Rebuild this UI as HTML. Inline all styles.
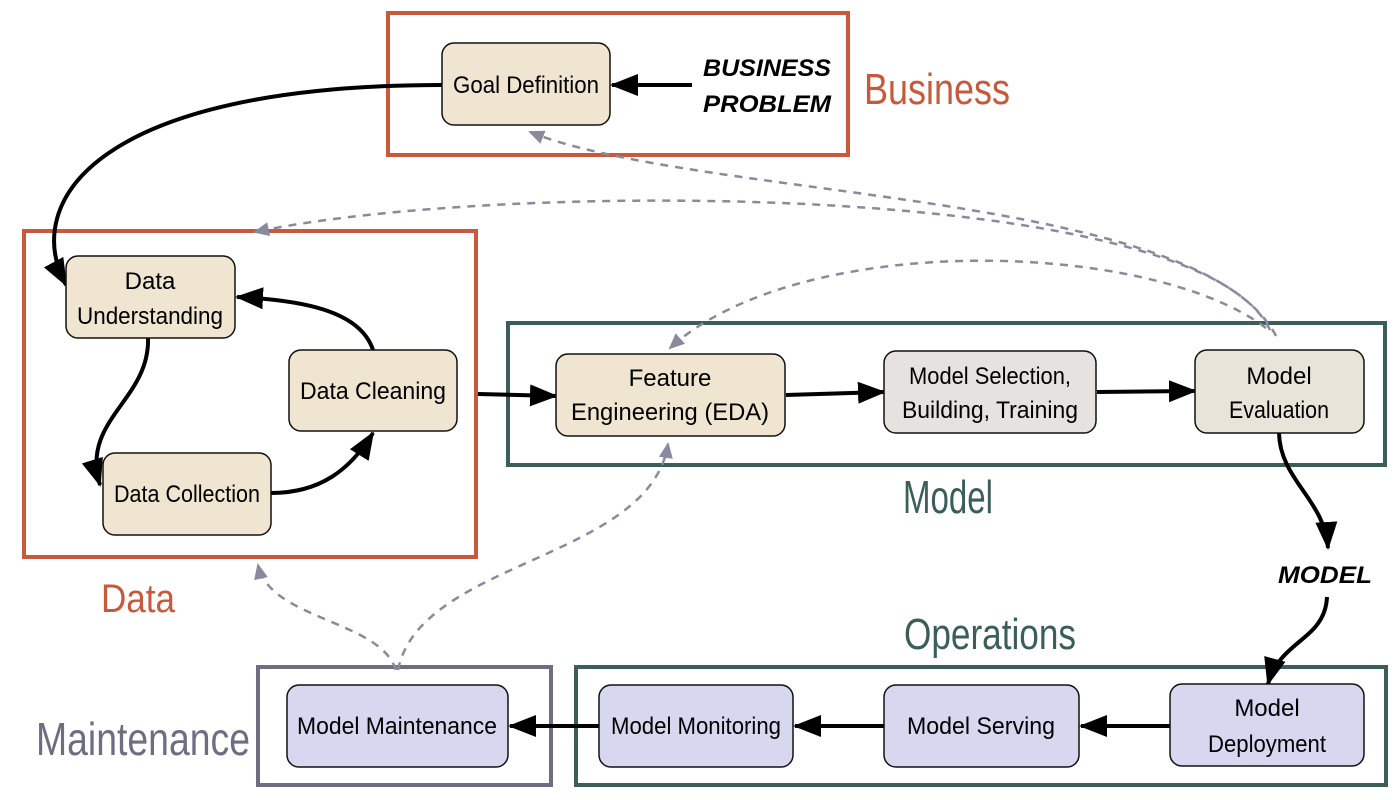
<!DOCTYPE html>
<html><head><meta charset="utf-8"><style>
html,body{margin:0;padding:0;background:#fff;}
svg{display:block;}
text{font-family:"Liberation Sans Narrow","Liberation Sans",sans-serif;}
</style></head><body>
<svg width="1400" height="800" viewBox="0 0 1400 800" xmlns="http://www.w3.org/2000/svg">
<defs>
<marker id="ab" markerWidth="28" markerHeight="28" refX="26" refY="14" orient="auto" markerUnits="userSpaceOnUse" viewBox="0 0 28 28"><path d="M0,3 L28,14 L0,25 z" fill="#000"/></marker>
<marker id="ag" markerWidth="16" markerHeight="16" refX="14" refY="8" orient="auto" markerUnits="userSpaceOnUse" viewBox="0 0 16 16"><path d="M0,1 L16,8 L0,15 z" fill="#8a8a9e"/></marker>
</defs>
<rect x="388" y="13" width="460" height="142" fill="none" stroke="#c8593a" stroke-width="4"/>
<rect x="24" y="231" width="452" height="326" fill="none" stroke="#c8593a" stroke-width="4"/>
<rect x="508" y="323" width="877" height="142" fill="none" stroke="#3b5e58" stroke-width="4"/>
<rect x="576" y="667" width="810" height="118" fill="none" stroke="#3b5e58" stroke-width="4"/>
<rect x="258" y="667" width="293" height="118" fill="none" stroke="#6e6e82" stroke-width="4"/>

<g fill="none" stroke="#8a8a9e" stroke-width="2.5" stroke-dasharray="8,7">
<path d="M1276,336 C1200,190 700,200 530,132" marker-end="url(#ag)"/>
<path d="M1270,330 C1200,180 500,180 255,232" marker-end="url(#ag)"/>
<path d="M1266,328 C1150,240 800,230 670,348" marker-end="url(#ag)"/>
<path d="M398,670 C420,560 650,560 668,444" marker-end="url(#ag)"/>
<path d="M396,670 C380,620 270,620 258,565" marker-end="url(#ag)"/>
</g>

<g fill="none" stroke="#000" stroke-width="4">
<path d="M442,85 C100,85 20,200 66,285" marker-end="url(#ab)"/>
<path d="M692,85 L612,85" marker-end="url(#ab)"/>
<path d="M148,338 C150,400 80,420 100,485" marker-end="url(#ab)"/>
<path d="M271,493 C320,493 350,470 373,433" marker-end="url(#ab)"/>
<path d="M373,350 C360,310 300,300 237,297" marker-end="url(#ab)"/>
<path d="M478,394 L556,396" marker-end="url(#ab)"/>
<path d="M786,395 L884,392" marker-end="url(#ab)"/>
<path d="M1097,392 L1195,391" marker-end="url(#ab)"/>
<path d="M1279,433 C1280,480 1325,500 1328,548" marker-end="url(#ab)"/>
<path d="M1327,597 C1325,640 1280,640 1268,684" marker-end="url(#ab)"/>
<path d="M1170,726 L1081,726" marker-end="url(#ab)"/>
<path d="M884,726 L795,726" marker-end="url(#ab)"/>
<path d="M599,726 L510,726" marker-end="url(#ab)"/>
</g>

<g stroke="#111" stroke-width="1.5">
<rect x="442" y="43" width="168" height="82" rx="12" fill="#efe5d0"/>
<rect x="66" y="256" width="169" height="82" rx="12" fill="#efe5d0"/>
<rect x="289" y="350" width="168" height="81" rx="12" fill="#efe5d0"/>
<rect x="103" y="453" width="168" height="82" rx="12" fill="#efe5d0"/>
<rect x="556" y="354" width="229" height="82" rx="12" fill="#efe5d0"/>
<rect x="884" y="351" width="212" height="82" rx="12" fill="#e6e2e0"/>
<rect x="1195" y="350" width="169" height="83" rx="12" fill="#e9e4d9"/>
<rect x="1170" y="684" width="194" height="82" rx="12" fill="#d7d7f0"/>
<rect x="884" y="685" width="195" height="82" rx="12" fill="#d7d7f0"/>
<rect x="599" y="685" width="194" height="82" rx="12" fill="#d7d7f0"/>
<rect x="287" y="685" width="221" height="82" rx="12" fill="#d7d7f0"/>
</g>

<g font-size="24" fill="#000" text-anchor="middle">
<text x="526" y="93" textLength="146" lengthAdjust="spacingAndGlyphs">Goal Definition</text>
<text x="150" y="289">Data</text>
<text x="150" y="324" textLength="146" lengthAdjust="spacingAndGlyphs">Understanding</text>
<text x="373" y="399" textLength="146" lengthAdjust="spacingAndGlyphs">Data Cleaning</text>
<text x="187" y="502" textLength="146" lengthAdjust="spacingAndGlyphs">Data Collection</text>
<text x="670" y="386">Feature</text>
<text x="670" y="420" textLength="198" lengthAdjust="spacingAndGlyphs">Engineering (EDA)</text>
<text x="990" y="384" textLength="162" lengthAdjust="spacingAndGlyphs">Model Selection,</text>
<text x="990" y="418" textLength="176" lengthAdjust="spacingAndGlyphs">Building, Training</text>
<text x="1279" y="384">Model</text>
<text x="1279" y="418" textLength="100" lengthAdjust="spacingAndGlyphs">Evaluation</text>
<text x="1267" y="716">Model</text>
<text x="1267" y="752" textLength="118" lengthAdjust="spacingAndGlyphs">Deployment</text>
<text x="981" y="734" textLength="148" lengthAdjust="spacingAndGlyphs">Model Serving</text>
<text x="696" y="734" textLength="170" lengthAdjust="spacingAndGlyphs">Model Monitoring</text>
<text x="397" y="734" textLength="200" lengthAdjust="spacingAndGlyphs">Model Maintenance</text>
</g>

<g font-weight="bold" fill="#000" text-anchor="middle" font-style="italic">
<text x="767" y="76" font-size="24" textLength="128" lengthAdjust="spacingAndGlyphs">BUSINESS</text>
<text x="767" y="112" font-size="24" textLength="128" lengthAdjust="spacingAndGlyphs">PROBLEM</text>
<text x="1325" y="583" font-size="24" textLength="94" lengthAdjust="spacingAndGlyphs">MODEL</text>
</g>

<g text-anchor="middle">
<text x="937" y="104" font-size="44" fill="#c8593a" textLength="146" lengthAdjust="spacingAndGlyphs">Business</text>
<text x="138" y="612" font-size="40" fill="#c8593a" textLength="74" lengthAdjust="spacingAndGlyphs">Data</text>
<text x="948" y="513" font-size="46" fill="#3b5e58" textLength="90" lengthAdjust="spacingAndGlyphs">Model</text>
<text x="990" y="649" font-size="44" fill="#3b5e58" textLength="172" lengthAdjust="spacingAndGlyphs">Operations</text>
<text x="143" y="755" font-size="46" fill="#6e6e82" textLength="214" lengthAdjust="spacingAndGlyphs">Maintenance</text>
</g>
</svg>
</body></html>
